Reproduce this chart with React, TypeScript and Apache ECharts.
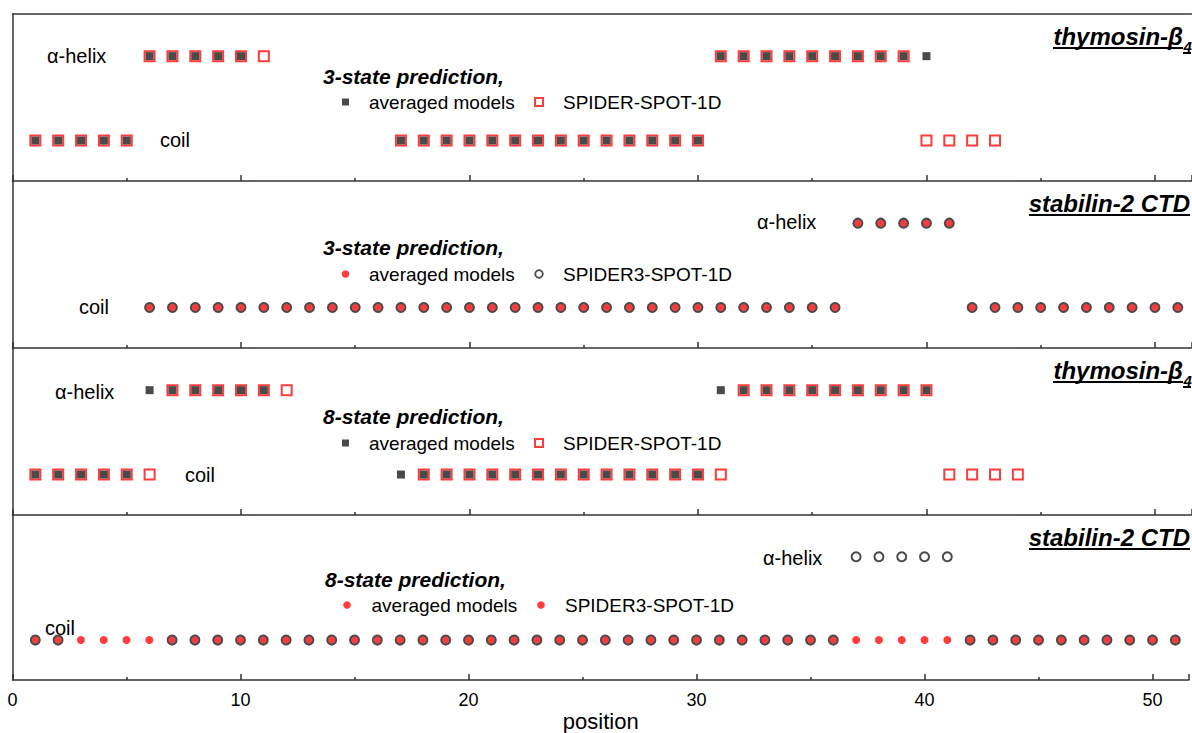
import React, { useEffect, useRef } from "react";
import * as echarts from "echarts";

// y levels: coil = 1, alpha-helix = 2
const stateLevels = { coil: 1, helix: 2 };
const xTickLabels = [0, 10, 20, 30, 40, 50];

// Panel 1: thymosin-β4, 3-state prediction
const p1AvgHelix = [6, 7, 8, 9, 10, 31, 32, 33, 34, 35, 36, 37, 38, 39, 40];
const p1AvgCoil = [1, 2, 3, 4, 5, 17, 18, 19, 20, 21, 22, 23, 24, 25, 26, 27, 28, 29, 30];
const p1SpiderHelix = [6, 7, 8, 9, 10, 11, 31, 32, 33, 34, 35, 36, 37, 38, 39];
const p1SpiderCoil = [1, 2, 3, 4, 5, 17, 18, 19, 20, 21, 22, 23, 24, 25, 26, 27, 28, 29, 30, 40, 41, 42, 43];

// Panel 2: stabilin-2 CTD, 3-state prediction
const p2AvgHelix = [37, 38, 39, 40, 41];
const p2AvgCoil = [6, 7, 8, 9, 10, 11, 12, 13, 14, 15, 16, 17, 18, 19, 20, 21, 22, 23, 24, 25, 26, 27, 28, 29, 30, 31, 32, 33, 34, 35, 36, 42, 43, 44, 45, 46, 47, 48, 49, 50, 51];
const p2SpiderHelix = [37, 38, 39, 40, 41];
const p2SpiderCoil = [6, 7, 8, 9, 10, 11, 12, 13, 14, 15, 16, 17, 18, 19, 20, 21, 22, 23, 24, 25, 26, 27, 28, 29, 30, 31, 32, 33, 34, 35, 36, 42, 43, 44, 45, 46, 47, 48, 49, 50, 51];

// Panel 3: thymosin-β4, 8-state prediction
const p3AvgHelix = [6, 7, 8, 9, 10, 11, 31, 32, 33, 34, 35, 36, 37, 38, 39, 40];
const p3AvgCoil = [1, 2, 3, 4, 5, 17, 18, 19, 20, 21, 22, 23, 24, 25, 26, 27, 28, 29, 30];
const p3SpiderHelix = [7, 8, 9, 10, 11, 12, 32, 33, 34, 35, 36, 37, 38, 39, 40];
const p3SpiderCoil = [1, 2, 3, 4, 5, 6, 18, 19, 20, 21, 22, 23, 24, 25, 26, 27, 28, 29, 30, 31, 41, 42, 43, 44];

// Panel 4: stabilin-2 CTD, 8-state prediction
const p4AvgHelix: number[] = [];
const p4AvgCoil = [1, 2, 3, 4, 5, 6, 7, 8, 9, 10, 11, 12, 13, 14, 15, 16, 17, 18, 19, 20, 21, 22, 23, 24, 25, 26, 27, 28, 29, 30, 31, 32, 33, 34, 35, 36, 37, 38, 39, 40, 41, 42, 43, 44, 45, 46, 47, 48, 49, 50, 51];
const p4SpiderHelix = [37, 38, 39, 40, 41];
const p4SpiderCoil = [1, 2, 7, 8, 9, 10, 11, 12, 13, 14, 15, 16, 17, 18, 19, 20, 21, 22, 23, 24, 25, 26, 27, 28, 29, 30, 31, 32, 33, 34, 35, 36, 42, 43, 44, 45, 46, 47, 48, 49, 50, 51];

const FONT = '"Liberation Sans", Arial, sans-serif';
const RED = "#ff3c3c";
const GRAY = "#4a4a4a";
const LINE = "#333333";

const GRID_LEFT = 12.5;
const GRID_W = 1179;
const PANEL_TOP = [14, 181, 348, 515];
const PANEL_H = 167;
const X_MAX = 51.6;

const pts = (helix: number[], coil: number[]) => [
  ...helix.map((x) => [x, stateLevels.helix]),
  ...coil.map((x) => [x, stateLevels.coil]),
];

const txt = (text: string, x: number, y: number, size: number, o: any = {}) => ({
  type: "text",
  x,
  y,
  silent: true,
  z: 10,
  style: {
    text,
    fontSize: size,
    fontFamily: FONT,
    fill: "#000",
    align: o.align || "left",
    verticalAlign: "middle",
    fontWeight: o.bold ? "bold" : "normal",
    fontStyle: o.italic ? "italic" : "normal",
  },
});

const hline = (x1: number, x2: number, y: number, w = 2) => ({
  type: "line",
  silent: true,
  z: 10,
  shape: { x1, y1: y, x2, y2: y },
  style: { stroke: "#000", lineWidth: w },
});

export default function App() {
  const ref = useRef<HTMLDivElement>(null);
  useEffect(() => {
    if (!ref.current) return;
    const chart = echarts.init(ref.current, undefined, { renderer: "svg" });

    const grids = PANEL_TOP.map((top) => ({ left: GRID_LEFT, top, width: GRID_W, height: PANEL_H }));
    const lineStyle = { color: LINE, width: 1.5 };
    const xAxes: any[] = PANEL_TOP.map((_, i) => ({
      gridIndex: i,
      type: "value",
      min: 0,
      max: X_MAX,
      interval: 10,
      position: "bottom",
      axisLine: { show: true, lineStyle },
      axisTick: { show: true, inside: true, length: 6, lineStyle },
      minorTick: { show: true, splitNumber: 2, length: 3, lineStyle },
      splitLine: { show: false },
      minorSplitLine: { show: false },
      axisLabel: {
        show: i === 3,
        fontSize: 18,
        fontFamily: FONT,
        color: "#000",
        margin: 11,
        formatter: (v: number) => (xTickLabels.includes(v) ? String(v) : ""),
      },
      name: i === 3 ? "position" : "",
      nameLocation: "middle",
      nameGap: 26,
      nameTextStyle: { fontSize: 22, fontFamily: FONT, color: "#000" },
    }));
    xAxes.push({
      gridIndex: 0,
      type: "value",
      min: 0,
      max: X_MAX,
      position: "top",
      axisLine: { show: true, lineStyle },
      axisTick: { show: false },
      axisLabel: { show: false },
      splitLine: { show: false },
    });
    const yAxes = PANEL_TOP.map((_, i) => ({
      gridIndex: i,
      type: "value",
      min: 0.52,
      max: 2.5,
      axisLine: { show: true, lineStyle },
      axisTick: { show: false },
      axisLabel: { show: false },
      splitLine: { show: false },
    }));

    const squareSpider = (i: number, data: any[]) => ({
      type: "scatter", xAxisIndex: i, yAxisIndex: i, silent: true, z: 2,
      symbol: "rect", symbolSize: 10,
      itemStyle: { color: "rgba(0,0,0,0)", borderColor: RED, borderWidth: 2, opacity: 1 },
      data,
    });
    const squareAvg = (i: number, data: any[]) => ({
      type: "scatter", xAxisIndex: i, yAxisIndex: i, silent: true, z: 3,
      symbol: "rect", symbolSize: 8,
      itemStyle: { color: GRAY, opacity: 1 },
      data,
    });
    const dotAvg = (i: number, data: any[]) => ({
      type: "scatter", xAxisIndex: i, yAxisIndex: i, silent: true, z: 2,
      symbol: "circle", symbolSize: 8,
      itemStyle: { color: RED, opacity: 1 },
      data,
    });
    const ringSpider = (i: number, data: any[]) => ({
      type: "scatter", xAxisIndex: i, yAxisIndex: i, silent: true, z: 3,
      symbol: "circle", symbolSize: 9,
      itemStyle: { color: "rgba(0,0,0,0)", borderColor: GRAY, borderWidth: 2, opacity: 1 },
      data,
    });

    const series = [
      squareSpider(0, pts(p1SpiderHelix, p1SpiderCoil)),
      squareAvg(0, pts(p1AvgHelix, p1AvgCoil)),
      dotAvg(1, pts(p2AvgHelix, p2AvgCoil)),
      ringSpider(1, pts(p2SpiderHelix, p2SpiderCoil)),
      squareSpider(2, pts(p3SpiderHelix, p3SpiderCoil)),
      squareAvg(2, pts(p3AvgHelix, p3AvgCoil)),
      dotAvg(3, pts(p4AvgHelix, p4AvgCoil)),
      ringSpider(3, pts(p4SpiderHelix, p4SpiderCoil)),
    ];

    const graphic: any[] = [];
    // Row labels
    graphic.push(txt("α-helix", 47, 56, 20), txt("coil", 160, 140, 20));
    graphic.push(txt("α-helix", 757, 222, 20), txt("coil", 79, 307, 20));
    graphic.push(txt("α-helix", 55, 392, 20), txt("coil", 185, 475, 20));
    graphic.push(txt("α-helix", 763, 558, 20), txt("coil", 45, 628, 20));

    // Panel titles
    const thymosin = (top: number) => {
      graphic.push(txt("thymosin-β", 1183, top + 22.7, 24, { align: "right", bold: true, italic: true }));
      graphic.push(txt("4", 1183.5, top + 32.5, 15, { bold: true, italic: true }));
      graphic.push(hline(1053, 1183, top + 34));
      graphic.push(hline(1183, 1191, top + 39));
    };
    const stabilin = (top: number) => {
      graphic.push(txt("stabilin-2 CTD", 1190, top + 22.7, 24, { align: "right", bold: true, italic: true }));
      graphic.push(hline(1029, 1190, top + 34));
    };
    thymosin(PANEL_TOP[0]);
    stabilin(PANEL_TOP[1]);
    thymosin(PANEL_TOP[2]);
    stabilin(PANEL_TOP[3]);

    // Legends
    const sqLegend = (title: string, yt: number, yi: number) => {
      graphic.push(txt(title, 323, yt, 21, { bold: true, italic: true }));
      graphic.push({ type: "rect", silent: true, z: 10, shape: { x: 342, y: yi - 3.5, width: 7, height: 7 }, style: { fill: GRAY } });
      graphic.push(txt("averaged models", 369, yi, 19));
      graphic.push({ type: "rect", silent: true, z: 10, shape: { x: 535, y: yi - 4, width: 8, height: 8 }, style: { fill: "none", stroke: RED, lineWidth: 2 } });
      graphic.push(txt("SPIDER-SPOT-1D", 563, yi, 19));
    };
    sqLegend("3-state prediction,", 76, 102);
    sqLegend("8-state prediction,", 416, 443);

    graphic.push(txt("3-state prediction,", 323, 247, 21, { bold: true, italic: true }));
    graphic.push({ type: "circle", silent: true, z: 10, shape: { cx: 345.5, cy: 274, r: 3.8 }, style: { fill: RED } });
    graphic.push(txt("averaged models", 369, 274, 19));
    graphic.push({ type: "circle", silent: true, z: 10, shape: { cx: 539, cy: 274, r: 3.8 }, style: { fill: "none", stroke: GRAY, lineWidth: 1.8 } });
    graphic.push(txt("SPIDER3-SPOT-1D", 563, 274, 19));

    graphic.push(txt("8-state prediction,", 325, 579, 21, { bold: true, italic: true }));
    graphic.push({ type: "circle", silent: true, z: 10, shape: { cx: 347, cy: 605, r: 3.8 }, style: { fill: RED } });
    graphic.push(txt("averaged models", 371.5, 605, 19));
    graphic.push({ type: "circle", silent: true, z: 10, shape: { cx: 541, cy: 605, r: 3.8 }, style: { fill: RED } });
    graphic.push(txt("SPIDER3-SPOT-1D", 565, 605, 19));

    chart.setOption({
      animation: false,
      backgroundColor: "#ffffff",
      grid: grids,
      xAxis: xAxes,
      yAxis: yAxes,
      series,
      graphic,
    });
    return () => chart.dispose();
  }, []);

  return (
    <div
      ref={ref}
      style={{ position: "fixed", left: 0, top: 0, width: 1192, height: 733, background: "#fff" }}
    />
  );
}
